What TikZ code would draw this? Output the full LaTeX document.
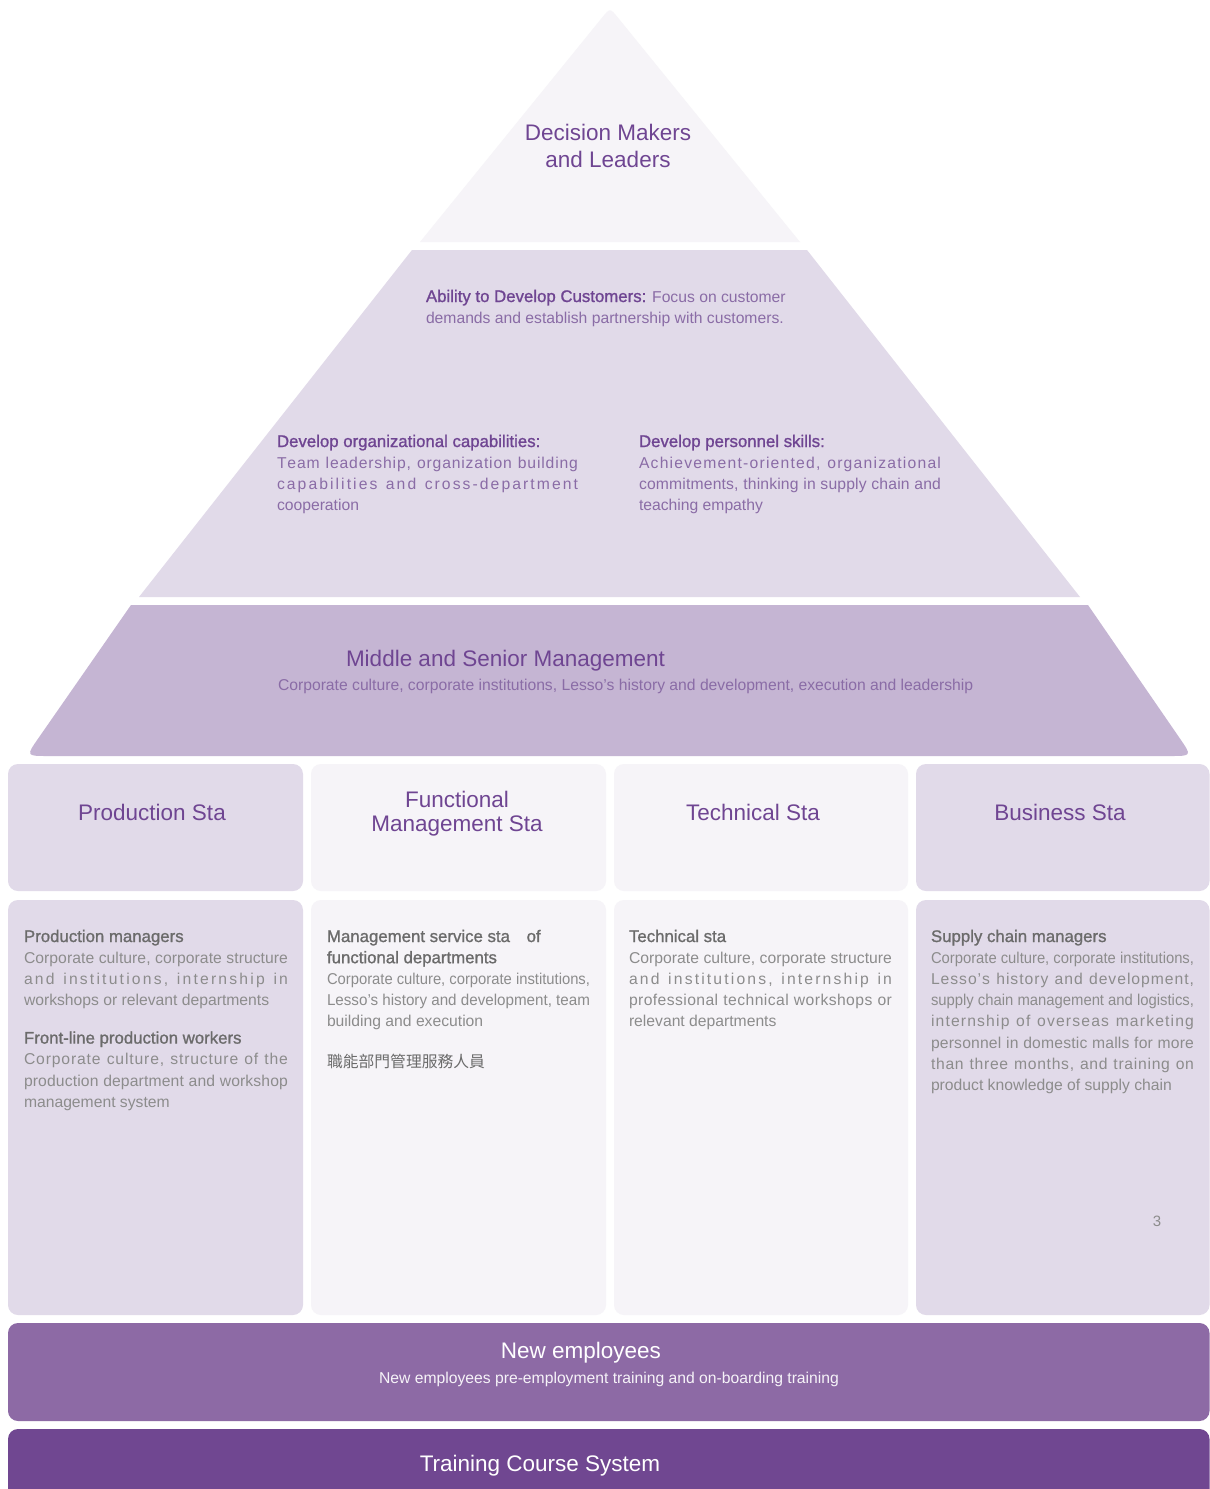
\documentclass[tikz,border=0pt]{standalone}
\usepackage{fontspec}
\usepackage{graphicx}
\setmainfont{Liberation Sans}
\newfontfamily\cjkfont{Noto Sans CJK TC}
\newfontfamily\semib[FakeBold=1.2]{Liberation Sans}
\definecolor{ctop}{HTML}{F6F4F8}
\definecolor{cmid}{HTML}{E1DAE9}
\definecolor{clow}{HTML}{C5B5D3}
\definecolor{cnew}{HTML}{8D6AA5}
\definecolor{ctrain}{HTML}{704791}
\definecolor{ctitle}{HTML}{6F4592}
\definecolor{cpbody}{HTML}{8A6CA6}
\definecolor{chead}{HTML}{6B6B6B}
\definecolor{cbody}{HTML}{8C8C8C}
\newcommand\bodyfont{\fontsize{15.7}{21.2}\selectfont}
\newcommand\headfont{\semib\fontsize{16.8}{21.2}\selectfont}
\makeatletter
\newlength\spr@natw
\def\spr@words#1 #2\@nil{\@tfor\spr@c:=#1\do{\spr@c\hskip0pt plus 1fil}\ifx\relax#2\relax\else\hskip 0.28em plus 1fil\spr@words#2\@nil\fi}
\newcommand\spreadline[1]{\noindent\hbox to \linewidth{\spr@words#1 \@nil\unskip}\par}
\newcommand\jl[1]{\settowidth\spr@natw{#1}\ifdim\spr@natw>\linewidth\noindent\resizebox{\linewidth}{\height}{#1}\par\else\spreadline{#1}\fi}
\makeatother
\tikzset{
  txt/.style={inner sep=0pt, outer sep=0pt, anchor=base west},
  ttl/.style={inner sep=0pt, outer sep=0pt, anchor=base, text=ctitle, font=\fontsize{22.5}{24.5}\selectfont},
  boxa/.style={fill=cmid, rounded corners=10pt},
  boxb/.style={fill=ctop, rounded corners=10pt},
}
\begin{document}
\begin{tikzpicture}[x=1pt,y=-1pt]
\useasboundingbox (0,0) rectangle (1210,1489);
\fill[white] (0,0) rectangle (1210,1489);
% pyramid
\fill[ctop] (420,242) -- (602.4,17.2) .. controls (610,8) .. (617.6,17.2) -- (800,242) -- cycle;
\fill[cmid] (412,250) -- (807,250) -- (1080,597) -- (139,597) -- cycle;
\fill[clow] (131,605) -- (1088,605) -- (1179.5,737.9) .. controls (1192,756) .. (1170,756) -- (48,756) .. controls (26,756) .. (38.6,737.9) -- cycle;
% boxes row 1
\path[boxa] (8,764) rectangle (303,891);
\path[boxb] (311,764) rectangle (606,891);
\path[boxb] (614,764) rectangle (908,891);
\path[boxa] (916,764) rectangle (1209.5,891);
% boxes row 2
\path[boxa] (8,900) rectangle (303,1315);
\path[boxb] (311,900) rectangle (606,1315);
\path[boxb] (614,900) rectangle (908,1315);
\path[boxa] (916,900) rectangle (1209.5,1315);
% bands
\fill[cnew, rounded corners=10pt] (8,1323) rectangle (1209.5,1421);
\fill[ctrain, rounded corners=10pt] (8,1429) rectangle (1209.5,1520);

% pyramid texts
\node[ttl] (dm) at (608,140) {\parbox[t]{300pt}{\centering\fontsize{22.5}{27}\selectfont Decision Makers\\and Leaders}};
\node[txt] (ability) at (426,302) {\parbox[t]{400pt}{\leavevmode\bodyfont\color{cpbody}{\headfont\color{ctitle}Ability to Develop Customers:} Focus on customer\\demands and establish partnership with customers.}};
\node[txt] (orgcap) at (277,447) {\parbox[t]{301pt}{\leavevmode\bodyfont\color{cpbody}{\headfont\color{ctitle}Develop organizational capabilities:}\par
\jl{Team leadership, organization building}
\jl{capabilities and cross-department}
cooperation}};
\node[txt] (perskill) at (639,447) {\parbox[t]{302pt}{\leavevmode\bodyfont\color{cpbody}{\headfont\color{ctitle}Develop personnel skills:}\par
\jl{Achievement-oriented, organizational}
\jl{commitments, thinking in supply chain and}
teaching empathy}};
\node[txt, text=ctitle, font=\fontsize{22.5}{27}\selectfont] (msm) at (346,666) {Middle and Senior Management};
\node[txt, text=cpbody, font=\bodyfont] (msmsub) at (278,690) {Corporate culture, corporate institutions, Lesso's history and development, execution and leadership};

% column titles
\node[ttl] (t1) at (152,820) {Production Sta};
\node[ttl] (t2) at (457,807) {\parbox[t]{250pt}{\centering Functional\\Management Sta}};
\node[ttl] (t3) at (753,820) {Technical Sta};
\node[ttl] (t4) at (1060,820) {Business Sta};

% column contents
\node[txt] (c1) at (24,942) {\parbox[t]{264pt}{\leavevmode\bodyfont\color{cbody}%
{\headfont\color{chead}Production managers}\par
\jl{Corporate culture, corporate structure}
\jl{and institutions, internship in}
workshops or relevant departments\par
\vspace{16.8pt}
{\headfont\color{chead}Front-line production workers}\par
\jl{Corporate culture, structure of the}
\jl{production department and workshop}
management system}};
\node[txt] (c2) at (327,942) {\parbox[t]{263pt}{\leavevmode\bodyfont\color{cbody}%
{\headfont\color{chead}Management service sta\hspace{12pt} of\\functional departments}\par
\jl{Corporate culture, corporate institutions,}
\jl{Lesso's history and development, team}
building and execution\par
\vspace{19.8pt}
{\cjkfont\fontsize{15.8}{21.2}\selectfont\color{chead}職能部門管理服務人員}}};
\node[txt] (c3) at (629,942) {\parbox[t]{263pt}{\leavevmode\bodyfont\color{cbody}%
{\headfont\color{chead}Technical sta}\par
\jl{Corporate culture, corporate structure}
\jl{and institutions, internship in}
\jl{professional technical workshops or}
relevant departments}};
\node[txt] (c4) at (931,942) {\parbox[t]{263pt}{\leavevmode\bodyfont\color{cbody}%
{\headfont\color{chead}Supply chain managers}\par
\jl{Corporate culture, corporate institutions,}
\jl{Lesso's history and development,}
\jl{supply chain management and logistics,}
\jl{internship of overseas marketing}
\jl{personnel in domestic malls for more}
\jl{than three months, and training on}
product knowledge of supply chain}};
\node[anchor=base, inner sep=0pt, text=cbody, font=\fontsize{15}{18}\selectfont] (pg) at (1157,1226) {3};

% bands text
\node[ttl, text=white] (ne) at (581,1358) {New employees};
\node[anchor=base, inner sep=0pt, text=white!92!cnew, font=\bodyfont] (nesub) at (609,1383) {New employees pre-employment training and on-boarding training};
\node[ttl, text=white] (tcs) at (540,1471) {Training Course System};
\end{tikzpicture}
\end{document}
